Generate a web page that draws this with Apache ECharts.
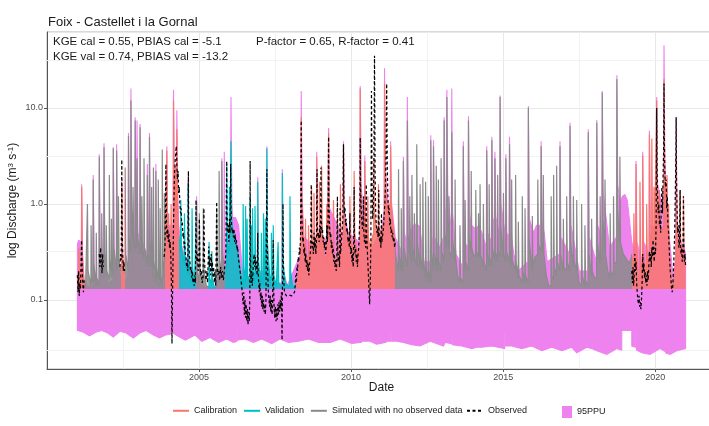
<!DOCTYPE html>
<html>
<head>
<meta charset="utf-8">
<script src="https://cdn.jsdelivr.net/npm/echarts@6/dist/echarts.min.js"></script>
<style>
  html, body { margin: 0; padding: 0; background: #fff; }
  #chart { width: 709px; height: 426px; }
</style>
</head>
<body>
<div id="chart"></div>
<script>
// Foix at Castellet i la Gornal: daily discharge, simulated vs observed, with the 95PPU band.
// Dates are decimal years.

const FONT = '"Liberation Sans", Arial, Helvetica, sans-serif';

// Periods where observations exist (colour of the simulated line)
const calPeriods = [[2001.0, 2001.24], [2002.42, 2002.55], [2003.88, 2004.33], [2008.18, 2011.45], [2019.23, 2021.0]];
const valPeriods = [[2004.33, 2004.895], [2005.28, 2005.55], [2005.86, 2008.18]];

// Simulated discharge (m3/s)
const simData = [
  [2001.0,0.18],[2001.02,0.15],[2001.044,0.14],[2001.05,0.35],[2001.07,0.18],[2001.134,0.16],[2001.14,1.5],[2001.16,0.28],[2001.22,0.15],
  [2001.27,0.14],[2001.324,0.135],[2001.33,1.0],[2001.35,0.2],[2001.444,0.14],[2001.45,0.6],[2001.47,0.17],[2001.514,0.15],[2001.52,1.8],[2001.54,0.24],
  [2001.614,0.14],[2001.62,0.5],[2001.64,0.17],[2001.714,0.14],[2001.72,3.1],[2001.74,0.3],[2001.794,0.17],[2001.80,0.8],[2001.82,0.24],
  [2001.869,0.17],[2001.875,3.9],[2001.895,0.32],[2001.944,0.18],[2001.95,0.6],[2001.97,0.2],[2002.044,0.16],[2002.05,2.0],[2002.07,0.26],
  [2002.114,0.17],[2002.12,0.7],[2002.14,0.22],[2002.174,0.18],[2002.18,3.8],[2002.20,0.35],[2002.284,0.2],[2002.29,3.6],[2002.31,0.35],
  [2002.344,0.22],[2002.35,1.2],[2002.37,0.26],[2002.42,0.2],
  [2002.454,0.22],[2002.46,1.6],[2002.48,0.3],[2002.53,0.2],
  [2002.564,0.18],[2002.57,2.4],[2002.59,0.3],[2002.674,0.2],[2002.68,5.1],[2002.70,0.45],[2002.754,0.3],[2002.76,12],[2002.78,0.9],
  [2002.824,0.4],[2002.83,1.5],[2002.85,0.4],[2002.894,0.32],[2002.90,7.4],[2002.92,0.6],[2002.954,0.35],[2002.96,3.0],[2002.98,0.45],
  [2003.054,0.3],[2003.06,6.3],[2003.08,0.5],[2003.114,0.3],[2003.12,1.2],[2003.14,0.32],[2003.184,0.26],[2003.19,3.0],[2003.21,0.35],
  [2003.294,0.22],[2003.30,2.0],[2003.32,0.3],[2003.364,0.22],[2003.37,5.0],[2003.39,0.4],[2003.434,0.22],[2003.44,1.5],[2003.46,0.26],
  [2003.494,0.17],[2003.50,2.4],[2003.52,0.25],[2003.574,0.15],[2003.58,2.2],[2003.60,0.22],[2003.654,0.14],[2003.66,1.8],[2003.68,0.2],
  [2003.714,0.14],[2003.72,0.9],[2003.74,0.17],[2003.784,0.14],[2003.79,3.7],[2003.81,0.26],[2003.854,0.17],[2003.86,1.3],[2003.88,0.24],
  [2003.934,0.25],[2003.94,3.6],[2003.96,0.5],[2003.994,0.35],[2004.0,0.8],[2004.02,0.35],[2004.074,0.3],[2004.08,1.0],[2004.10,0.4],
  [2004.154,0.35],[2004.16,12],[2004.18,1.6],[2004.214,1.0],[2004.22,2.5],[2004.24,0.9],[2004.264,0.8],[2004.27,6.0],[2004.29,1.0],[2004.32,0.5],
  [2004.36,0.4],[2004.394,0.32],[2004.40,1.1],[2004.42,0.35],[2004.47,0.28],[2004.514,0.24],[2004.52,0.8],[2004.54,0.28],[2004.60,0.2],
  [2004.634,0.18],[2004.64,1.6],[2004.66,0.28],[2004.72,0.17],[2004.764,0.15],[2004.77,0.9],[2004.79,0.22],[2004.85,0.14],
  [2004.914,0.14],[2004.92,1.05],[2004.94,0.2],[2005.004,0.15],[2005.01,0.8],[2005.03,0.2],[2005.134,0.14],[2005.14,0.9],[2005.16,0.2],[2005.24,0.14],
  [2005.30,0.135],[2005.324,0.135],[2005.33,0.4],[2005.35,0.17],[2005.414,0.14],[2005.42,0.32],[2005.44,0.16],[2005.50,0.135],
  [2005.574,0.135],[2005.58,0.9],[2005.60,0.17],[2005.654,0.15],[2005.66,2.2],[2005.68,0.26],[2005.744,0.18],[2005.75,2.8],[2005.77,0.3],[2005.82,0.22],
  [2005.86,0.22],[2005.904,0.22],[2005.91,2.6],[2005.93,0.4],[2005.994,0.3],[2006.0,1.5],[2006.02,0.45],[2006.044,0.45],[2006.05,4.5],[2006.07,0.7],
  [2006.12,0.5],[2006.18,0.42],[2006.25,0.36],[2006.30,0.28],[2006.36,0.2],[2006.42,0.15],[2006.444,0.14],[2006.45,1.0],[2006.47,0.22],
  [2006.524,0.15],[2006.53,0.95],[2006.55,0.2],[2006.574,0.16],[2006.58,0.7],[2006.60,0.18],[2006.674,0.14],[2006.68,1.2],[2006.70,0.2],
  [2006.714,0.17],[2006.72,0.6],[2006.74,0.17],[2006.754,0.15],[2006.76,0.9],[2006.78,0.2],[2006.834,0.15],[2006.84,0.95],[2006.86,0.2],
  [2006.924,0.16],[2006.93,1.7],[2006.95,0.26],[2007.01,0.17],[2007.044,0.15],[2007.05,0.5],[2007.07,0.17],[2007.114,0.14],[2007.12,0.8],[2007.14,0.2],
  [2007.174,0.16],[2007.18,0.7],[2007.20,0.18],[2007.224,0.17],[2007.23,3.8],[2007.25,0.38],[2007.32,0.18],[2007.374,0.16],[2007.38,0.5],[2007.40,0.17],
  [2007.434,0.15],[2007.44,0.6],[2007.46,0.18],[2007.54,0.14],[2007.594,0.135],[2007.60,0.4],[2007.62,0.15],[2007.734,0.135],[2007.74,2.1],[2007.76,0.24],
  [2007.84,0.15],[2007.984,0.135],[2007.99,1.2],[2008.01,0.2],[2008.08,0.14],[2008.15,0.135],
  [2008.20,0.15],[2008.28,0.2],[2008.354,0.3],[2008.36,8.0],[2008.38,1.0],[2008.44,0.4],[2008.494,0.3],[2008.50,0.7],[2008.52,0.3],
  [2008.594,0.22],[2008.60,0.6],[2008.62,0.3],[2008.694,0.25],[2008.70,1.5],[2008.72,0.4],[2008.774,0.3],[2008.78,1.3],[2008.80,0.35],
  [2008.864,0.3],[2008.87,3.1],[2008.89,0.5],[2008.954,0.35],[2008.96,1.7],[2008.98,0.45],[2009.024,0.35],[2009.03,2.5],[2009.05,0.5],
  [2009.12,0.3],[2009.194,0.25],[2009.20,1.0],[2009.22,0.35],[2009.254,0.35],[2009.26,5.5],[2009.28,0.8],[2009.35,0.35],[2009.414,0.25],
  [2009.42,1.1],[2009.44,0.3],[2009.50,0.22],[2009.544,0.2],[2009.55,0.9],[2009.57,0.28],[2009.644,0.25],[2009.65,1.6],[2009.67,0.4],
  [2009.744,0.35],[2009.75,4.0],[2009.77,0.7],[2009.80,0.6],[2009.85,0.5],[2009.90,0.45],[2009.954,0.4],[2009.96,1.2],[2009.98,0.45],
  [2010.05,0.35],[2010.094,0.3],[2010.10,2.2],[2010.12,0.5],[2010.20,0.3],[2010.294,0.35],[2010.30,16],[2010.32,1.5],[2010.35,0.7],
  [2010.40,0.55],[2010.444,0.5],[2010.45,2.8],[2010.47,0.6],[2010.53,0.4],[2010.544,0.4],[2010.55,1.2],[2010.57,0.45],[2010.62,0.35],
  [2010.70,0.45],[2010.744,0.5],[2010.75,3.0],[2010.77,0.8],[2010.85,0.5],[2010.894,0.45],[2010.90,1.6],[2010.92,0.55],[2011.0,0.5],
  [2011.05,0.6],[2011.094,0.7],[2011.10,18],[2011.12,2.0],[2011.16,1.1],[2011.20,0.9],[2011.25,1.0],[2011.294,0.8],[2011.30,4.0],
  [2011.32,1.0],[2011.38,0.6],[2011.44,0.4],
  [2011.46,0.3],[2011.50,0.25],[2011.554,0.2],[2011.56,2.3],[2011.58,0.3],[2011.644,0.2],[2011.65,0.9],[2011.67,0.25],[2011.714,0.2],
  [2011.72,2.8],[2011.74,0.35],[2011.844,0.22],[2011.85,7.4],[2011.87,0.5],[2011.924,0.3],[2011.93,1.2],[2011.95,0.3],[2011.994,0.25],
  [2012.0,2.0],[2012.02,0.35],[2012.074,0.25],[2012.08,0.8],[2012.10,0.28],[2012.154,0.22],[2012.16,4.2],[2012.18,0.4],[2012.264,0.22],
  [2012.27,1.6],[2012.29,0.28],[2012.354,0.2],[2012.36,1.9],[2012.38,0.25],[2012.444,0.17],[2012.45,1.7],[2012.47,0.22],[2012.534,0.15],
  [2012.54,1.2],[2012.56,0.2],[2012.614,0.15],[2012.62,4.6],[2012.64,0.32],[2012.704,0.2],[2012.71,4.0],[2012.73,0.32],[2012.794,0.2],
  [2012.80,2.5],[2012.82,0.28],[2012.864,0.2],[2012.87,1.8],[2012.89,0.25],[2012.954,0.2],[2012.96,3.0],[2012.98,0.32],[2013.054,0.25],
  [2013.06,7.4],[2013.08,0.5],[2013.144,0.35],[2013.15,13],[2013.17,0.7],[2013.214,0.35],[2013.22,1.2],[2013.24,0.32],[2013.304,0.28],
  [2013.31,5.6],[2013.33,0.45],[2013.414,0.25],[2013.42,1.8],[2013.44,0.28],[2013.50,0.18],[2013.574,0.15],[2013.58,0.6],[2013.60,0.17],
  [2013.684,0.15],[2013.69,4.0],[2013.71,0.28],[2013.744,0.2],[2013.75,1.1],[2013.77,0.25],[2013.854,0.2],[2013.86,7.4],[2013.88,0.45],
  [2013.944,0.32],[2013.95,2.2],[2013.97,0.35],[2014.02,0.3],[2014.094,0.28],[2014.10,1.4],[2014.12,0.32],[2014.184,0.28],[2014.19,0.8],
  [2014.21,0.3],[2014.234,0.28],[2014.24,1.6],[2014.26,0.3],[2014.344,0.22],[2014.35,1.0],[2014.37,0.25],[2014.454,0.2],[2014.46,3.6],
  [2014.48,0.3],[2014.534,0.22],[2014.54,1.6],[2014.56,0.28],[2014.624,0.22],[2014.63,4.6],[2014.65,0.35],[2014.724,0.25],[2014.73,3.0],
  [2014.75,0.32],[2014.814,0.25],[2014.82,2.0],[2014.84,0.32],[2014.894,0.28],[2014.90,13],[2014.92,0.6],[2015.004,0.28],[2015.01,1.3],
  [2015.03,0.3],[2015.084,0.25],[2015.09,3.0],[2015.11,0.32],[2015.204,0.25],[2015.21,4.2],[2015.23,0.32],[2015.274,0.22],[2015.28,1.8],
  [2015.30,0.26],[2015.404,0.2],[2015.41,2.0],[2015.43,0.24],[2015.494,0.17],[2015.50,0.65],[2015.52,0.18],[2015.624,0.15],[2015.63,1.2],
  [2015.65,0.2],[2015.714,0.15],[2015.72,0.9],[2015.74,0.18],[2015.824,0.15],[2015.83,10],[2015.85,0.45],[2015.954,0.2],[2015.96,0.75],
  [2015.98,0.22],[2016.05,0.28],[2016.134,0.3],[2016.14,1.8],[2016.16,0.38],[2016.244,0.32],[2016.25,4.0],[2016.27,0.4],[2016.314,0.32],
  [2016.32,2.0],[2016.34,0.3],[2016.42,0.18],[2016.50,0.14],[2016.574,0.14],[2016.58,1.2],[2016.60,0.18],[2016.654,0.16],[2016.66,2.0],
  [2016.68,0.22],[2016.754,0.18],[2016.76,2.5],[2016.78,0.25],[2016.864,0.2],[2016.87,4.0],[2016.89,0.3],[2016.974,0.2],[2016.98,0.7],
  [2017.0,0.22],[2017.084,0.2],[2017.09,1.2],[2017.11,0.25],[2017.194,0.2],[2017.20,6.5],[2017.22,0.4],[2017.304,0.22],[2017.31,1.2],
  [2017.33,0.26],[2017.414,0.2],[2017.42,1.1],[2017.44,0.22],[2017.50,0.15],[2017.574,0.14],[2017.58,1.0],[2017.60,0.18],[2017.684,0.14],
  [2017.69,0.6],[2017.71,0.16],[2017.794,0.14],[2017.80,5.6],[2017.82,0.3],[2017.904,0.18],[2017.91,0.7],[2017.93,0.2],[2018.0,0.17],
  [2018.074,0.17],[2018.08,7.0],[2018.10,0.4],[2018.184,0.24],[2018.19,1.2],[2018.21,0.28],[2018.254,0.26],[2018.26,14.5],[2018.28,0.7],
  [2018.344,0.32],[2018.35,1.8],[2018.37,0.3],[2018.44,0.2],[2018.514,0.17],[2018.52,0.8],[2018.54,0.2],[2018.624,0.18],[2018.63,1.2],
  [2018.65,0.24],[2018.734,0.25],[2018.74,20],[2018.76,0.9],[2018.834,0.4],[2018.84,3.1],[2018.86,0.4],[2018.95,0.3],[2019.05,0.27],
  [2019.15,0.24],[2019.22,0.28],
  [2019.23,0.3],[2019.26,0.25],[2019.294,0.22],[2019.30,0.8],[2019.32,0.26],[2019.364,0.22],[2019.37,2.6],[2019.39,0.35],[2019.44,0.18],
  [2019.494,0.16],[2019.50,1.7],[2019.52,0.26],[2019.584,0.18],[2019.59,3.2],[2019.61,0.35],[2019.66,0.22],[2019.714,0.2],[2019.72,1.0],
  [2019.74,0.26],[2019.804,0.22],[2019.81,5.3],[2019.83,0.5],[2019.884,0.35],[2019.89,4.8],[2019.91,0.5],[2019.954,0.4],[2019.96,1.5],
  [2019.98,0.45],[2020.044,0.45],[2020.05,12],[2020.07,1.3],[2020.134,0.7],[2020.14,1.4],[2020.16,0.6],[2020.22,0.5],[2020.284,0.6],
  [2020.29,20],[2020.31,2.2],[2020.36,1.0],[2020.384,0.9],[2020.39,2.0],[2020.41,0.7],[2020.434,0.5],[2020.44,1.0],[2020.46,0.35],
  [2020.52,0.17],[2020.56,0.13],[2020.62,0.18],[2020.684,0.26],[2020.69,3.2],[2020.71,0.5],[2020.814,0.3],[2020.82,1.4],[2020.84,0.35],
  [2020.924,0.26],[2020.93,1.2],[2020.95,0.3],[2021.0,0.26]
];

// Observed discharge (m3/s); '-' marks gaps without records
const obsData = [
  [2001.0,0.18],[2001.02,0.12],[2001.04,0.2],[2001.06,0.11],[2001.08,0.15],[2001.1,0.13],[2001.12,0.25],[2001.14,0.42],[2001.16,0.2],
  [2001.18,0.14],[2001.2,0.12],[2001.22,0.16],[2001.23,'-'],
  [2001.72,0.3],[2001.74,0.22],[2001.76,0.35],[2001.79,0.24],[2001.81,0.19],[2001.83,0.3],[2001.85,0.22],[2001.86,'-'],
  [2002.40,0.22],[2002.42,0.3],[2002.44,0.26],[2002.46,2.9],[2002.47,0.6],[2002.49,0.3],[2002.51,0.2],[2002.53,0.25],[2002.55,0.2],[2002.56,'-'],
  [2003.85,0.28],[2003.88,0.35],[2003.91,2.6],[2003.93,0.6],[2003.95,0.45],[2003.97,0.55],[2003.99,0.4],[2004.01,0.5],[2004.03,0.35],
  [2004.05,0.4],[2004.07,0.3],[2004.09,0.15],[2004.11,0.035],[2004.13,0.12],[2004.16,0.6],[2004.19,2.0],[2004.22,3.0],[2004.25,4.0],
  [2004.27,2.6],[2004.29,1.8],[2004.31,2.2],[2004.33,1.3],[2004.35,1.5],[2004.37,1.0],[2004.39,0.8],[2004.41,0.9],[2004.43,0.6],
  [2004.45,0.65],[2004.47,0.45],[2004.49,0.5],[2004.51,0.35],[2004.53,0.4],[2004.55,0.3],[2004.57,0.28],[2004.59,0.22],[2004.61,0.25],
  [2004.63,0.2],[2004.65,2.2],[2004.66,0.5],[2004.68,0.3],[2004.70,0.25],[2004.72,0.2],[2004.74,0.22],[2004.76,0.17],[2004.78,0.2],
  [2004.80,0.15],[2004.82,0.17],[2004.84,0.14],[2004.86,0.18],[2004.88,0.15],[2004.90,1.1],[2004.91,0.35],[2004.93,0.25],[2004.95,0.3],
  [2004.97,0.2],[2004.99,0.22],[2005.01,0.7],[2005.03,0.25],[2005.05,0.18],[2005.08,0.2],[2005.10,0.15],[2005.13,0.17],[2005.16,0.9],
  [2005.18,0.25],[2005.20,0.2],[2005.23,0.16],[2005.26,0.2],[2005.28,0.15],[2005.30,0.25],[2005.32,0.36],[2005.34,0.22],[2005.36,0.28],
  [2005.38,0.18],[2005.40,0.3],[2005.42,0.2],[2005.44,0.25],[2005.46,0.17],[2005.48,0.22],[2005.50,0.15],[2005.52,0.2],[2005.55,0.14],
  [2005.58,1.05],[2005.60,0.25],[2005.62,0.18],[2005.65,0.2],[2005.68,0.16],[2005.71,0.22],[2005.74,0.17],[2005.77,0.2],[2005.80,0.16],
  [2005.83,0.2],[2005.86,0.25],[2005.88,0.3],[2005.91,2.8],[2005.92,0.8],[2005.94,0.5],[2005.96,0.6],[2005.98,0.4],[2006.00,0.7],
  [2006.02,0.5],[2006.04,2.6],[2006.05,0.9],[2006.07,0.6],[2006.09,0.5],[2006.11,0.55],[2006.13,0.45],[2006.15,0.55],[2006.17,0.4],
  [2006.19,0.48],[2006.21,0.38],[2006.23,0.42],[2006.25,0.33],[2006.27,0.36],[2006.29,0.28],[2006.31,0.25],[2006.33,0.22],[2006.35,0.2],
  [2006.37,0.17],[2006.39,0.15],[2006.41,0.13],[2006.43,0.11],[2006.45,0.09],[2006.47,0.12],[2006.49,0.07],[2006.51,0.1],[2006.53,0.065],
  [2006.55,0.09],[2006.57,0.06],[2006.59,0.08],[2006.61,0.055],[2006.63,0.075],[2006.65,0.06],[2006.67,0.1],[2006.68,2.8],[2006.69,0.3],
  [2006.71,0.15],[2006.73,0.2],[2006.75,0.14],[2006.77,0.18],[2006.79,0.25],[2006.81,0.3],[2006.83,0.22],[2006.85,0.28],[2006.87,0.2],
  [2006.89,0.25],[2006.91,0.18],[2006.93,0.5],[2006.94,0.22],[2006.96,0.16],[2006.98,0.12],[2007.00,0.15],[2007.02,0.1],[2007.04,0.12],
  [2007.06,0.085],[2007.08,0.11],[2007.10,0.08],[2007.12,0.1],[2007.14,0.075],[2007.16,0.09],[2007.18,0.07],[2007.20,0.1],[2007.23,2.3],
  [2007.24,0.4],[2007.26,0.18],[2007.28,0.12],[2007.30,0.1],[2007.32,0.085],[2007.34,0.11],[2007.36,0.075],[2007.38,0.1],[2007.40,0.07],
  [2007.42,0.09],[2007.44,0.42],[2007.45,0.15],[2007.47,0.08],[2007.49,0.065],[2007.51,0.085],[2007.53,0.06],[2007.55,0.08],[2007.57,0.062],
  [2007.59,0.09],[2007.61,0.07],[2007.63,0.095],[2007.65,0.075],[2007.67,0.1],[2007.69,0.08],[2007.71,0.12],[2007.73,0.038],[2007.74,0.1],
  [2007.76,1.0],[2007.77,0.3],[2007.79,0.15],[2007.81,0.12],[2007.84,0.115],[2007.87,0.11],[2007.90,0.115],[2007.93,0.11],[2007.96,0.112],
  [2007.99,0.11],[2008.02,0.115],[2008.05,0.11],[2008.08,0.113],[2008.11,0.11],[2008.14,0.12],[2008.16,0.14],
  [2008.18,0.18],[2008.2,0.15],[2008.22,0.22],[2008.24,0.2],[2008.26,0.28],[2008.28,0.25],[2008.30,0.35],[2008.32,0.3],[2008.34,0.5],
  [2008.36,7.4],[2008.37,1.2],[2008.39,0.6],[2008.41,0.4],[2008.43,0.45],[2008.45,0.3],[2008.47,0.35],[2008.49,0.25],[2008.51,0.3],
  [2008.53,0.22],[2008.55,0.26],[2008.57,0.2],[2008.59,0.24],[2008.61,0.18],[2008.63,0.22],[2008.65,0.28],[2008.67,0.35],[2008.69,1.6],
  [2008.70,0.5],[2008.72,0.35],[2008.74,0.4],[2008.76,0.3],[2008.78,0.5],[2008.80,0.35],[2008.82,0.45],[2008.84,0.3],[2008.86,0.4],
  [2008.88,2.3],[2008.89,0.6],[2008.91,0.45],[2008.93,0.5],[2008.95,0.4],[2008.97,0.6],[2008.99,0.45],[2009.01,2.4],[2009.02,0.7],
  [2009.04,0.5],[2009.06,0.55],[2009.08,0.4],[2009.10,0.45],[2009.12,0.35],[2009.14,0.4],[2009.16,0.3],[2009.18,0.35],[2009.20,0.6],
  [2009.22,0.4],[2009.24,0.6],[2009.26,5.0],[2009.27,1.0],[2009.29,0.6],[2009.31,0.45],[2009.33,0.5],[2009.35,0.35],[2009.37,0.4],
  [2009.39,0.3],[2009.41,0.35],[2009.43,0.25],[2009.45,0.3],[2009.47,0.22],[2009.49,0.26],[2009.51,0.2],[2009.53,0.24],[2009.55,1.2],
  [2009.56,0.35],[2009.58,0.25],[2009.60,0.3],[2009.62,0.22],[2009.64,0.9],[2009.65,0.3],[2009.67,0.35],[2009.69,0.45],[2009.71,0.55],
  [2009.73,0.7],[2009.75,4.2],[2009.76,1.2],[2009.78,0.8],[2009.80,0.9],[2009.82,0.6],[2009.84,0.7],[2009.86,0.5],[2009.88,0.55],
  [2009.90,0.4],[2009.92,0.45],[2009.94,0.35],[2009.96,0.8],[2009.97,0.4],[2009.99,0.3],[2010.01,0.35],[2010.03,0.25],[2010.05,0.3],
  [2010.07,0.22],[2010.09,0.5],[2010.10,1.5],[2010.11,0.4],[2010.13,0.3],[2010.15,0.35],[2010.17,0.25],[2010.19,0.3],[2010.21,0.22],
  [2010.23,0.3],[2010.25,0.35],[2010.27,0.5],[2010.29,0.8],[2010.30,4.9],[2010.31,1.5],[2010.33,0.9],[2010.35,0.7],[2010.37,0.55],
  [2010.39,0.6],[2010.41,1.2],[2010.42,0.5],[2010.44,0.4],[2010.46,0.45],[2010.48,0.35],[2010.50,1.6],[2010.51,0.5],[2010.53,0.35],
  [2010.55,0.25],[2010.57,0.18],[2010.59,0.12],[2010.61,0.09],[2010.63,0.15],[2010.65,0.4],[2010.67,15],[2010.69,1.5],[2010.71,0.7],
  [2010.73,0.9],[2010.75,3],[2010.77,35],[2010.79,2.0],[2010.81,0.8],[2010.83,0.6],[2010.85,0.5],[2010.87,0.55],[2010.89,0.45],
  [2010.91,1.4],[2010.92,0.5],[2010.94,0.4],[2010.96,0.45],[2010.98,0.35],[2011.00,0.8],[2011.01,0.4],[2011.03,0.45],[2011.05,0.5],
  [2011.07,0.6],[2011.09,0.8],[2011.11,1.0],[2011.13,1.5],[2011.15,3.5],[2011.17,18],[2011.19,2.5],[2011.21,1.2],[2011.23,0.8],
  [2011.25,0.9],[2011.27,0.6],[2011.29,0.7],[2011.31,0.5],[2011.33,0.55],[2011.35,0.45],[2011.37,0.5],[2011.39,0.4],[2011.41,0.45],
  [2011.43,0.35],[2011.45,0.4],[2011.46,'-'],
  [2019.23,0.2],[2019.25,0.15],[2019.27,0.22],[2019.29,0.14],[2019.31,0.18],[2019.33,0.3],[2019.35,0.2],[2019.37,0.25],[2019.39,0.15],
  [2019.41,0.12],[2019.43,0.1],[2019.45,0.09],[2019.47,0.11],[2019.49,0.085],[2019.51,0.095],[2019.53,0.08],[2019.55,0.1],[2019.57,0.15],
  [2019.59,0.3],[2019.61,0.2],[2019.63,0.24],[2019.65,0.17],[2019.67,0.2],[2019.69,0.15],[2019.71,0.18],[2019.73,0.14],[2019.75,0.2],
  [2019.77,0.16],[2019.79,0.22],[2019.81,0.32],[2019.83,0.25],[2019.85,0.3],[2019.87,0.22],[2019.89,0.35],[2019.91,0.28],[2019.93,0.42],
  [2019.95,0.3],[2019.97,0.25],[2019.99,0.35],[2020.01,0.3],[2020.03,0.6],[2020.05,10],[2020.06,2.5],[2020.08,1.2],[2020.10,0.8],
  [2020.12,1.0],[2020.14,0.6],[2020.16,0.7],[2020.18,0.5],[2020.20,0.9],[2020.22,1.5],[2020.24,0.8],[2020.26,2.0],[2020.28,4.0],
  [2020.29,18],[2020.30,5.0],[2020.32,2.0],[2020.34,1.5],[2020.36,1.8],[2020.38,0.9],[2020.40,1.2],[2020.42,0.6],[2020.44,0.5],
  [2020.46,0.35],[2020.48,0.25],[2020.50,0.19],[2020.52,0.16],[2020.54,0.13],[2020.56,0.12],[2020.58,0.14],[2020.60,0.2],[2020.62,0.3],
  [2020.64,0.5],[2020.66,1.2],[2020.68,3.0],[2020.69,8],[2020.70,2.0],[2020.72,0.9],[2020.74,0.5],[2020.76,0.6],[2020.78,0.35],
  [2020.80,0.4],[2020.82,1.4],[2020.83,0.4],[2020.85,0.3],[2020.87,0.35],[2020.89,0.25],[2020.91,0.3],[2020.93,1.2],[2020.94,0.4],
  [2020.96,0.25],[2020.98,0.3],[2021.0,0.22]
];

// 95PPU upper bound (m3/s)
const bandUpper = [
  [2001.0,0.38],[2001.04,0.42],[2001.1,0.4],[2001.124,0.3],[2001.14,1.6],[2001.17,0.3],[2001.22,0.16],[2001.3,0.14],
  [2001.50,0.135],[2001.504,0.14],[2001.52,2.0],[2001.55,0.2],[2001.70,0.14],[2001.704,0.15],[2001.72,3.3],[2001.75,0.2],
  [2001.859,0.16],[2001.875,4.3],[2001.905,0.3],[2002.0,0.15],[2002.164,0.16],[2002.18,3.9],[2002.21,0.25],
  [2002.274,0.2],[2002.29,4.2],[2002.32,0.25],[2002.444,0.15],[2002.46,1.8],[2002.49,0.2],
  [2002.60,0.15],[2002.664,0.2],[2002.68,5.5],[2002.71,0.35],[2002.744,0.35],[2002.76,16],[2002.79,0.6],[2002.85,0.45],
  [2002.884,0.45],[2002.90,8.0],[2002.93,0.5],[2002.944,0.5],[2002.96,7.4],[2002.99,0.5],[2003.044,0.45],[2003.06,6.8],[2003.09,0.45],
  [2003.2,0.35],[2003.284,0.3],[2003.30,2.6],[2003.33,0.3],[2003.354,0.25],[2003.37,5.5],[2003.40,0.25],[2003.5,0.18],
  [2003.564,0.16],[2003.58,2.6],[2003.61,0.16],[2003.70,0.14],
  [2003.86,0.2],[2003.90,0.45],[2003.924,0.5],[2003.94,4.0],[2003.97,0.55],[2004.05,0.6],[2004.144,0.6],[2004.16,15.5],[2004.19,1.2],
  [2004.22,0.9],[2004.254,1.0],[2004.27,9.5],[2004.30,1.4],[2004.33,0.6],[2004.40,0.4],[2004.5,0.3],[2004.624,0.25],[2004.64,1.8],
  [2004.67,0.25],[2004.8,0.16],[2004.904,0.16],[2004.92,1.2],[2004.95,0.16],[2005.1,0.14],
  [2005.5,0.135],[2005.734,0.2],[2005.75,3.0],[2005.78,0.25],[2005.814,0.25],[2005.83,3.5],[2005.86,0.3],[2005.95,0.4],[2006.034,0.6],
  [2006.05,13],[2006.08,1.0],[2006.10,0.72],[2006.2,0.72],[2006.3,0.6],[2006.38,0.3],[2006.45,0.16],
  [2006.914,0.2],[2006.93,1.9],[2006.96,0.2],[2007.214,0.2],[2007.23,4.0],[2007.26,0.25],[2007.35,0.15],[2007.724,0.15],[2007.74,2.3],
  [2007.77,0.2],[2007.9,0.14],
  [2008.344,0.3],[2008.36,15],[2008.39,1.2],[2008.45,0.45],[2008.854,0.35],[2008.87,3.5],[2008.90,0.5],[2009.244,0.4],[2009.26,6.2],
  [2009.29,0.9],[2009.734,0.45],[2009.75,4.5],[2009.78,0.8],[2009.9,0.5],[2010.284,0.4],[2010.30,17],[2010.33,1.6],[2010.434,0.55],
  [2010.45,3.2],[2010.48,0.6],[2010.6,0.3],[2011.0,0.55],[2011.084,0.8],[2011.10,26],[2011.13,2.2],[2011.2,1.1],[2011.284,0.9],
  [2011.30,4.5],[2011.33,1.0],[2011.45,0.45],
  [2011.704,0.3],[2011.72,3.1],[2011.75,0.5],[2011.834,0.4],[2011.85,13],[2011.88,0.9],[2011.95,0.5],[2012.05,0.6],[2012.15,0.62],
  [2012.25,0.58],[2012.32,0.4],[2012.4,0.25],[2012.604,0.25],[2012.62,5.2],[2012.65,0.45],[2012.694,0.35],[2012.71,4.6],[2012.74,0.45],
  [2012.9,0.35],[2013.044,0.45],[2013.06,8.0],[2013.09,0.9],[2013.134,0.7],[2013.15,15.5],[2013.18,1.3],[2013.294,0.5],[2013.31,16],
  [2013.34,0.8],[2013.45,0.3],[2013.674,0.22],[2013.69,4.5],[2013.72,0.4],[2013.844,0.35],[2013.86,8.2],[2013.89,0.8],[2013.95,0.6],
  [2014.1,0.55],[2014.2,0.6],[2014.3,0.5],[2014.444,0.35],[2014.46,4.0],[2014.49,0.5],[2014.614,0.4],[2014.63,5.0],[2014.66,0.55],
  [2014.70,0.7],[2014.714,0.7],[2014.73,3.5],[2014.76,0.75],[2014.80,0.6],[2014.884,0.5],[2014.90,13.5],[2014.93,1.0],[2015.074,0.45],
  [2015.09,3.3],[2015.12,0.5],[2015.194,0.45],[2015.21,5.0],[2015.24,0.55],[2015.35,0.3],[2015.5,0.2],[2015.814,0.25],[2015.83,10.5],
  [2015.86,0.7],[2016.0,0.5],[2016.1,0.6],[2016.234,0.6],[2016.25,4.5],[2016.28,0.65],[2016.35,0.5],[2016.45,0.25],[2016.854,0.3],
  [2016.87,4.5],[2016.90,0.45],[2017.184,0.3],[2017.20,7.0],[2017.23,0.6],[2017.5,0.2],[2017.784,0.2],[2017.80,6.0],[2017.83,0.45],
  [2018.064,0.25],[2018.08,7.5],[2018.11,0.6],[2018.244,0.45],[2018.26,15],[2018.29,1.3],[2018.5,0.35],[2018.724,0.45],[2018.74,22],
  [2018.77,1.6],[2018.84,1.0],[2018.92,1.2],[2019.0,1.25],[2019.08,1.1],[2019.15,0.7],[2019.23,0.4],
  [2019.354,0.3],[2019.37,2.8],[2019.40,0.4],[2019.574,0.25],[2019.59,3.5],[2019.62,0.4],[2019.794,0.3],[2019.81,5.8],[2019.84,0.6],
  [2020.034,0.55],[2020.05,13],[2020.08,1.6],[2020.274,0.8],[2020.29,45],[2020.32,2.6],[2020.45,0.5],[2020.6,0.16],[2020.674,0.3],
  [2020.69,8.0],[2020.72,0.6],[2020.85,0.4],[2020.95,0.35],[2021.0,0.3]
];

// 95PPU lower bound (m3/s)
const bandLower = [
  [2001.0,0.048],[2001.2,0.046],[2001.4,0.042],[2001.6,0.046],[2001.8,0.048],[2002.0,0.045],[2002.18,0.041],[2002.4,0.047],
  [2002.6,0.045],[2002.84,0.04],[2003.05,0.045],[2003.25,0.048],[2003.5,0.043],[2003.7,0.04],[2003.9,0.043],[2004.06,0.044],
  [2004.062,0.058],[2004.1,0.056],[2004.102,0.046],[2004.3,0.042],[2004.55,0.038],[2004.87,0.043],[2005.09,0.037],[2005.36,0.0405],
  [2005.64,0.036],[2005.91,0.039],[2006.13,0.036],[2006.24,0.037],[2006.242,0.052],[2006.262,0.052],[2006.264,0.038],[2006.51,0.039],
  [2006.79,0.036],[2007.06,0.039],[2007.39,0.035],[2007.66,0.039],[2007.94,0.036],[2008.27,0.037],[2008.6,0.039],[2008.93,0.036],
  [2009.31,0.036],[2009.64,0.039],[2010.02,0.035],[2010.34,0.036],[2010.342,0.048],[2010.362,0.048],[2010.364,0.037],[2010.62,0.037],
  [2010.84,0.0345],[2011.15,0.036],[2011.152,0.044],[2011.18,0.044],[2011.182,0.037],[2011.30,0.037],[2011.302,0.044],[2011.322,0.044],
  [2011.324,0.037],[2011.5,0.037],[2011.72,0.036],[2012.0,0.034],
  [2012.27,0.033],[2012.6,0.037],[2013.04,0.033],[2013.09,0.036],[2013.3,0.035],[2013.302,0.046],[2013.322,0.046],[2013.324,0.034],
  [2013.64,0.033],[2013.97,0.031],[2014.12,0.032],[2014.122,0.044],[2014.142,0.044],[2014.144,0.032],[2014.3,0.032],[2014.63,0.033],
  [2015.05,0.031],[2015.052,0.046],[2015.072,0.046],[2015.074,0.033],[2015.28,0.033],[2015.61,0.031],[2015.94,0.033],[2016.27,0.0295],
  [2016.6,0.032],[2016.93,0.0295],[2017.26,0.032],[2017.42,0.028],[2017.75,0.032],[2017.9,0.031],[2017.902,0.044],[2017.922,0.044],
  [2017.924,0.031],[2018.08,0.0295],[2018.41,0.027],[2018.74,0.031],[2018.9,0.03],[2018.902,0.048],[2019.23,0.048],[2019.232,0.033],
  [2019.36,0.032],[2019.362,0.044],[2019.382,0.044],[2019.384,0.03],[2019.56,0.028],[2019.83,0.027],[2020.16,0.031],[2020.32,0.029],
  [2020.322,0.044],[2020.342,0.044],[2020.344,0.028],[2020.49,0.027],[2020.71,0.0295],[2021.0,0.031]
];

// Minor grid positions
const xMinor = [2002.5, 2007.5, 2012.5, 2017.5];
const yMinor = [0.0316, 0.316, 3.16, 31.6];

const COLORS = { cal: '#F8766D', val: '#00BFC4', none: '#8a8a8a', band: '#EE82EE', obs: '#000000' };

// Colour pieces for the simulated line along the time axis
const spans = calPeriods.map(p => ({ from: p[0], to: p[1], color: COLORS.cal }))
  .concat(valPeriods.map(p => ({ from: p[0], to: p[1], color: COLORS.val })))
  .sort((a, b) => a.from - b.from);
const pieces = [];
let cursor = 2000;
spans.forEach(s => {
  if (s.from > cursor) pieces.push({ gte: cursor, lt: s.from, color: COLORS.none });
  pieces.push({ gte: s.from, lt: s.to, color: s.color });
  cursor = s.to;
});
pieces.push({ gte: cursor, lt: 2022, color: COLORS.none });

const chart = echarts.init(document.getElementById('chart'), null, { renderer: 'canvas' });

const legendText = { fontSize: 9, color: '#1a1a1a', fontFamily: FONT };

chart.setOption({
  animation: false,
  backgroundColor: '#ffffff',
  title: {
    text: 'Foix - Castellet i la Gornal',
    left: 43, top: 11,
    textStyle: { fontSize: 13, fontWeight: 'normal', color: '#1a1a1a', fontFamily: FONT }
  },
  grid: {
    left: 47, right: -7, top: 32, bottom: 57,
    show: true, borderColor: '#b3b3b3', borderWidth: 1, backgroundColor: '#ffffff',
    containLabel: false, outerBoundsMode: 'none'
  },
  graphic: [
    { type: 'text', x: 53, y: 42, style: { text: 'KGE cal = 0.55, PBIAS cal = -5.1', font: '11.5px ' + FONT, fill: '#1a1a1a', textVerticalAlign: 'middle' }, z: 50 },
    { type: 'text', x: 53, y: 57, style: { text: 'KGE val = 0.74, PBIAS val = -13.2', font: '11.5px ' + FONT, fill: '#1a1a1a', textVerticalAlign: 'middle' }, z: 50 },
    { type: 'text', x: 256, y: 42, style: { text: 'P-factor = 0.65, R-factor = 0.41', font: '11.5px ' + FONT, fill: '#1a1a1a', textVerticalAlign: 'middle' }, z: 50 }
  ],
  xAxis: {
    type: 'value', min: 2000, max: 2022, interval: 5,
    name: 'Date', nameLocation: 'middle', nameGap: 13, nameMoveOverlap: false,
    nameTextStyle: { fontSize: 12, color: '#1a1a1a', fontFamily: FONT },
    axisLine: { show: true, lineStyle: { color: '#555555', width: 1 } },
    axisTick: { show: true, length: 3, lineStyle: { color: '#555555' } },
    axisLabel: {
      margin: 4, fontSize: 9, color: '#4d4d4d', fontFamily: FONT,
      showMinLabel: false, showMaxLabel: false,
      formatter: v => (v > 2000 && v < 2022) ? String(v) : ''
    },
    splitLine: { show: true, lineStyle: { color: '#e8e8e8', width: 1 } }
  },
  yAxis: {
    type: 'log', logBase: 10, min: 0.019, max: 62,
    name: 'log Discharge (m{sup|3} s{sup|-1})', nameLocation: 'middle', nameGap: 28, nameRotate: 90, nameMoveOverlap: false,
    nameTextStyle: {
      fontSize: 12, color: '#1a1a1a', fontFamily: FONT,
      rich: { sup: { fontSize: 8, verticalAlign: 'top', color: '#1a1a1a', fontFamily: FONT } }
    },
    axisLine: { show: true, lineStyle: { color: '#555555', width: 1 } },
    axisTick: { show: true, length: 3, lineStyle: { color: '#555555' } },
    axisLabel: {
      margin: 4, fontSize: 9, color: '#4d4d4d', fontFamily: FONT,
      showMinLabel: false, showMaxLabel: false,
      formatter: v => Number(v).toFixed(1)
    },
    splitLine: { show: true, lineStyle: { color: '#e8e8e8', width: 1 } }
  },
  visualMap: [{
    type: 'piecewise', show: false, dimension: 0, seriesIndex: 1, pieces: pieces
  }],
  legend: [
    { left: 167, top: 401, itemWidth: 16, itemHeight: 12, itemGap: 6, selectedMode: false,
      textStyle: legendText, itemStyle: { opacity: 0 },
      data: ['Calibration', 'Validation', 'Simulated with no observed data'] },
    { left: 461, top: 401, itemWidth: 16, itemHeight: 12, itemGap: 6, selectedMode: false,
      textStyle: legendText, itemStyle: { opacity: 0 },
      data: ['Observed'] },
    { left: 557, top: 401, itemWidth: 10, itemHeight: 12, selectedMode: false,
      textStyle: legendText,
      data: [{ name: '95PPU', icon: 'rect' }] }
  ],
  series: [
    {
      type: 'custom', name: '95PPU', coordinateSystem: 'cartesian2d',
      data: [[2001, 0.1]], encode: { x: 0, y: 1 },
      itemStyle: { color: COLORS.band }, silent: true, clip: true, z: 2,
      renderItem: function (params, api) {
        const pts = bandUpper.map(p => api.coord(p))
          .concat(bandLower.slice().reverse().map(p => api.coord(p)));
        return {
          type: 'polygon', shape: { points: pts },
          style: { fill: COLORS.band, stroke: COLORS.band, lineWidth: 1.1, lineJoin: 'miter', miterLimit: 2 }
        };
      }
    },
    {
      type: 'line', name: 'Simulated', data: simData, symbol: 'none', silent: true, z: 3,
      lineStyle: { width: 1.2 },
      areaStyle: { origin: 0.13, opacity: 0.85 }
    },
    {
      type: 'line', name: 'Observed', data: obsData, symbol: 'none', silent: true, z: 4,
      connectNulls: false,
      itemStyle: { color: COLORS.obs },
      lineStyle: { color: COLORS.obs, width: 1.2, type: [3, 2.5] },
      markLine: {
        silent: true, z: 1, symbol: ['none', 'none'], label: { show: false },
        lineStyle: { color: '#f2f2f2', width: 1, type: 'solid' },
        emphasis: { disabled: true },
        data: xMinor.map(v => ({ xAxis: v })).concat(yMinor.map(v => ({ yAxis: v })))
      }
    },
    { type: 'line', name: 'Calibration', data: [], symbol: 'none', itemStyle: { color: COLORS.cal }, lineStyle: { color: COLORS.cal, width: 1.2 } },
    { type: 'line', name: 'Validation', data: [], symbol: 'none', itemStyle: { color: COLORS.val }, lineStyle: { color: COLORS.val, width: 1.2 } },
    { type: 'line', name: 'Simulated with no observed data', data: [], symbol: 'none', itemStyle: { color: COLORS.none }, lineStyle: { color: COLORS.none, width: 1.2 } }
  ]
});
</script>
</body>
</html>
